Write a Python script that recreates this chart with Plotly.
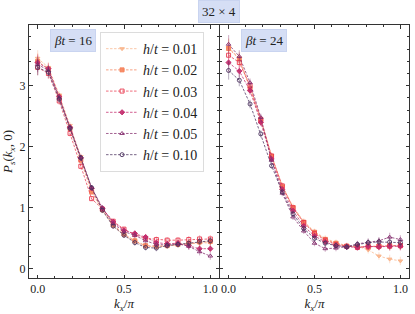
import plotly.graph_objects as go

kx = [i / 16 for i in range(17)]
h_labels = ["0.01", "0.02", "0.03", "0.04", "0.05", "0.10"]
colors = ["#f9b58c", "#f5825a", "#e93a4f", "#c22a6c", "#852e6e", "#4b325e"]
symbols = ["triangle-down", "square", "square-open", "diamond", "triangle-up-open", "circle-open"]

# beta t = 16
p16_001 = [3.45, 3.30, 2.85, 2.35, 1.84, 1.30, 0.95, 0.70, 0.55, 0.45, 0.37, 0.36, 0.38, 0.40, 0.41, 0.42, 0.43]
p16_002 = [3.40, 3.27, 2.82, 2.30, 1.78, 1.26, 0.97, 0.72, 0.57, 0.46, 0.38, 0.37, 0.38, 0.40, 0.42, 0.44, 0.45]
p16_003 = [3.30, 3.20, 2.75, 2.22, 1.68, 1.15, 0.98, 0.78, 0.65, 0.56, 0.50, 0.48, 0.47, 0.47, 0.48, 0.49, 0.49]
p16_004 = [3.38, 3.28, 2.82, 2.32, 1.82, 1.32, 0.99, 0.77, 0.63, 0.58, 0.52, 0.43, 0.41, 0.42, 0.38, 0.33, 0.33]
p16_005 = [3.35, 3.25, 2.80, 2.32, 1.82, 1.33, 1.00, 0.74, 0.61, 0.55, 0.46, 0.40, 0.39, 0.41, 0.37, 0.28, 0.21]
p16_010 = [3.30, 3.22, 2.78, 2.30, 1.82, 1.33, 0.96, 0.70, 0.55, 0.43, 0.35, 0.34, 0.38, 0.40, 0.42, 0.45, 0.46]
err16 = [0.13, 0.09, 0.06, 0.05, 0.05, 0.04, 0.04, 0.04, 0.04, 0.05, 0.05, 0.05, 0.05, 0.05, 0.06, 0.06, 0.06]

# beta t = 24
p24_001 = [3.63, 3.45, 2.98, 2.45, 1.86, 1.36, 1.02, 0.78, 0.61, 0.50, 0.43, 0.38, 0.37, 0.31, 0.21, 0.16, 0.13]
p24_002 = [3.61, 3.44, 2.95, 2.42, 1.84, 1.34, 1.00, 0.76, 0.60, 0.48, 0.42, 0.37, 0.36, 0.37, 0.37, 0.38, 0.38]
p24_003 = [3.50, 3.38, 3.00, 2.45, 1.85, 1.36, 1.00, 0.76, 0.58, 0.47, 0.40, 0.37, 0.35, 0.36, 0.37, 0.37, 0.38]
p24_004 = [3.38, 3.24, 2.92, 2.40, 1.80, 1.30, 0.95, 0.70, 0.54, 0.44, 0.38, 0.36, 0.35, 0.37, 0.36, 0.37, 0.37]
p24_005 = [3.68, 3.48, 3.05, 2.48, 1.78, 1.24, 0.85, 0.62, 0.42, 0.33, 0.34, 0.36, 0.41, 0.44, 0.46, 0.52, 0.48]
p24_010 = [3.25, 3.09, 2.70, 2.21, 1.69, 1.26, 0.90, 0.66, 0.50, 0.42, 0.38, 0.36, 0.40, 0.43, 0.44, 0.44, 0.43]
err24 = [0.15, 0.10, 0.07, 0.06, 0.05, 0.05, 0.05, 0.05, 0.05, 0.05, 0.05, 0.05, 0.05, 0.06, 0.06, 0.07, 0.07]

panels = [
    ([p16_001, p16_002, p16_003, p16_004, p16_005, p16_010], err16, "x", "y", True),
    ([p24_001, p24_002, p24_003, p24_004, p24_005, p24_010], err24, "x2", "y2", False),
]

FONT = "Liberation Serif, DejaVu Serif, serif"


def rgba(hexc, a):
    h = hexc.lstrip("#")
    r, g, b = int(h[0:2], 16), int(h[2:4], 16), int(h[4:6], 16)
    return f"rgba({r},{g},{b},{a})"


fig = go.Figure()
for series, err, xa, ya, show in panels:
    for i, vals in enumerate(series):
        c = colors[i]
        fig.add_trace(go.Scatter(
            x=kx, y=vals, xaxis=xa, yaxis=ya,
            mode="lines+markers",
            name=f"<i>h</i>/<i>t</i> = {h_labels[i]}",
            legendgroup=f"g{i}",
            showlegend=show,
            line=dict(color=rgba(c, 0.85), width=0.9, dash="2.5px,1.5px"),
            marker=dict(symbol=symbols[i], size=4, color=rgba(c, 0.9),
                        line=dict(color=rgba(c, 0.95), width=1)),
            error_y=dict(type="data", array=err, color=rgba(c, 0.35), thickness=1.2, width=0),
        ))

axis_common = dict(
    showline=True, linecolor="#333333", linewidth=1, mirror="allticks",
    ticks="inside", ticklen=3.5, tickwidth=0.8, tickcolor="#333333",
    showgrid=False, zeroline=False, automargin=False,
    tickfont=dict(family=FONT, size=12, color="#222222"),
)
xcommon = dict(axis_common, range=[-0.05, 1.05], tick0=0, dtick=0.5, tickformat=".1f",
               minor=dict(ticks="inside", dtick=0.1, ticklen=2, tickcolor="#333333", tickwidth=0.6),
               title=dict(text="<i>k<sub>x</sub></i>/<i>π</i>", font=dict(family=FONT, size=13, color="#222222"), standoff=0))
ycommon = dict(axis_common, range=[-0.15, 3.995], tick0=0, dtick=1,
               minor=dict(ticks="inside", dtick=0.2, ticklen=2, tickcolor="#333333", tickwidth=0.6))

fig.update_layout(
    width=415, height=314,
    margin=dict(l=29, r=6, t=25, b=36),
    paper_bgcolor="white", plot_bgcolor="white",
    font=dict(family=FONT, size=12, color="#222222"),
    xaxis=dict(xcommon, domain=[0, 0.5], anchor="y"),
    xaxis2=dict(xcommon, domain=[0.5026, 1], anchor="y2"),
    yaxis=dict(ycommon, anchor="x",
               title=dict(text="<i>P<sub>s</sub></i>(<i>k<sub>x</sub></i>, 0)", font=dict(family=FONT, size=13, color="#222222"), standoff=4)),
    yaxis2=dict(ycommon, anchor="x2", matches="y", showticklabels=False),
    legend=dict(x=0.187, y=0.972, xanchor="left", yanchor="top",
                bgcolor="rgba(255,255,255,0.9)", bordercolor="#dcdcdc", borderwidth=1,
                font=dict(family=FONT, size=14, color="#222222"),
                itemwidth=32, tracegroupgap=0),
    showlegend=True,
)

box = dict(bgcolor="#d5def5", bordercolor="#c9d4f0", borderwidth=1, borderpad=3,
           font=dict(family=FONT, size=13, color="#222222"), showarrow=False)
fig.add_annotation(text="32 × 4", xref="paper", yref="paper", x=0.5, y=1.0, yshift=14,
                   xanchor="center", yanchor="middle", **box)
fig.add_annotation(text="<i>βt</i> = 16", xref="paper", yref="paper", x=(73 - 29) / 380, y=(278 - 41) / 253,
                   xanchor="center", yanchor="middle", **box)
fig.add_annotation(text="<i>βt</i> = 24", xref="paper", yref="paper", x=(263.5 - 29) / 380, y=(278 - 41) / 253,
                   xanchor="center", yanchor="middle", **box)

fig.write_html("out.html", config={"displayModeBar": False},
               post_script="document.body.style.margin='0px';document.body.style.overflow='hidden';")
